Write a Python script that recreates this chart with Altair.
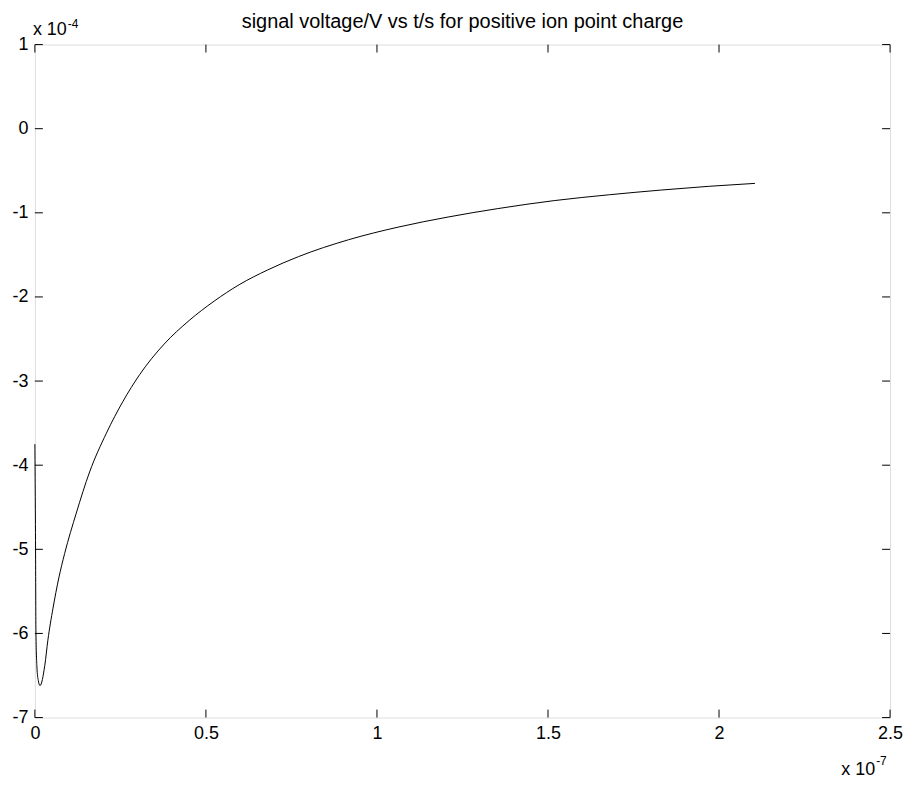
import altair as alt
import pandas as pd

# time in units of 1e-7 s, signal voltage in units of 1e-4 V
t_vals = [0.000, 0.002, 0.003, 0.006, 0.010, 0.015, 0.029, 0.038, 0.053, 0.070,
          0.087, 0.121, 0.160, 0.209, 0.257, 0.306, 0.378, 0.451, 0.524, 0.597,
          0.680, 0.771, 0.917, 1.062, 1.208, 1.353, 1.518, 1.680, 1.829, 1.970,
          2.105]
v_vals = [-3.75, -5.00, -5.95, -6.40, -6.56, -6.62, -6.38, -6.08, -5.70, -5.34,
          -5.05, -4.57, -4.08, -3.62, -3.245, -2.925, -2.56, -2.28, -2.05, -1.855,
          -1.68, -1.52, -1.32, -1.17, -1.05, -0.95, -0.855, -0.785, -0.73, -0.685,
          -0.65]

x_ticks = [0, 0.5, 1, 1.5, 2, 2.5]
y_ticks = [1, 0, -1, -2, -3, -4, -5, -6, -7]

title_text = "signal voltage/V vs t/s for positive ion point charge"
y_mult = "x 10"
y_exp = "-4"
x_mult = "x 10"
x_exp = "-7"

W, H = 859, 676
FONT = "Liberation Sans"
TL = 8  # tick length

df = pd.DataFrame({"t": t_vals, "v": v_vals, "i": list(range(len(t_vals)))})
xt = pd.DataFrame({"xt": x_ticks})
yt = pd.DataFrame({"yt": y_ticks})

xs = alt.Scale(domain=[0, 2.5], nice=False, zero=False)
ys = alt.Scale(domain=[-7, 1], nice=False, zero=False)

x_axis = alt.Axis(values=x_ticks, ticks=False, grid=False, domain=False, title=None,
                  labelFontSize=18, labelFont=FONT, labelColor="black", labelPadding=7,
                  labelFlush=False, labelOverlap=False, labelExpr="'' + datum.value")
y_axis = alt.Axis(values=y_ticks, ticks=False, grid=False, domain=False, title=None,
                  labelFontSize=18, labelFont=FONT, labelColor="black", labelPadding=7,
                  labelFlush=False, labelOverlap=False, labelExpr="'' + datum.value")

line = alt.Chart(df).mark_line(color="black", strokeWidth=1, interpolate="monotone").encode(
    x=alt.X("t:Q", scale=xs, axis=x_axis),
    y=alt.Y("v:Q", scale=ys, axis=y_axis),
    order="i:Q",
)

bottom_ticks = alt.Chart(xt).mark_rule(color="black", strokeWidth=1).encode(
    x=alt.X("xt:Q", scale=xs, axis=x_axis), y=alt.value(H), y2=alt.value(H - TL))
top_ticks = alt.Chart(xt).mark_rule(color="black", strokeWidth=1).encode(
    x=alt.X("xt:Q", scale=xs, axis=x_axis), y=alt.value(0), y2=alt.value(TL))
left_ticks = alt.Chart(yt).mark_rule(color="black", strokeWidth=1).encode(
    y=alt.Y("yt:Q", scale=ys, axis=y_axis), x=alt.value(0), x2=alt.value(TL))
right_ticks = alt.Chart(yt).mark_rule(color="black", strokeWidth=1).encode(
    y=alt.Y("yt:Q", scale=ys, axis=y_axis), x=alt.value(W - TL), x2=alt.value(W))

def note(text, x, y, size, align="left"):
    return alt.Chart(pd.DataFrame({"s": [text]})).mark_text(
        align=align, baseline="alphabetic", font=FONT, fontSize=size, color="black"
    ).encode(text="s:N", x=alt.value(x), y=alt.value(y))

title_note = note(title_text, W / 2, -17, 20, align="center")
y_note = note(y_mult, -2, -10, 18)
y_note_exp = note(y_exp, 33, -17, 12)
x_note = note(x_mult, 810, H + 58, 18)
x_note_exp = note(x_exp, 845, H + 48, 12)

chart = alt.layer(
    line, bottom_ticks, top_ticks, left_ticks, right_ticks,
    title_note, y_note, y_note_exp, x_note, x_note_exp,
).properties(
    width=W, height=H,
    autosize=alt.AutoSizeParams(type="none"),
    padding={"left": 27, "top": 35, "right": 15, "bottom": 66},
).configure_view(stroke="black", strokeWidth=1).configure(background="white")

chart.save("out.html", embed_options={"renderer": "svg", "actions": False})
